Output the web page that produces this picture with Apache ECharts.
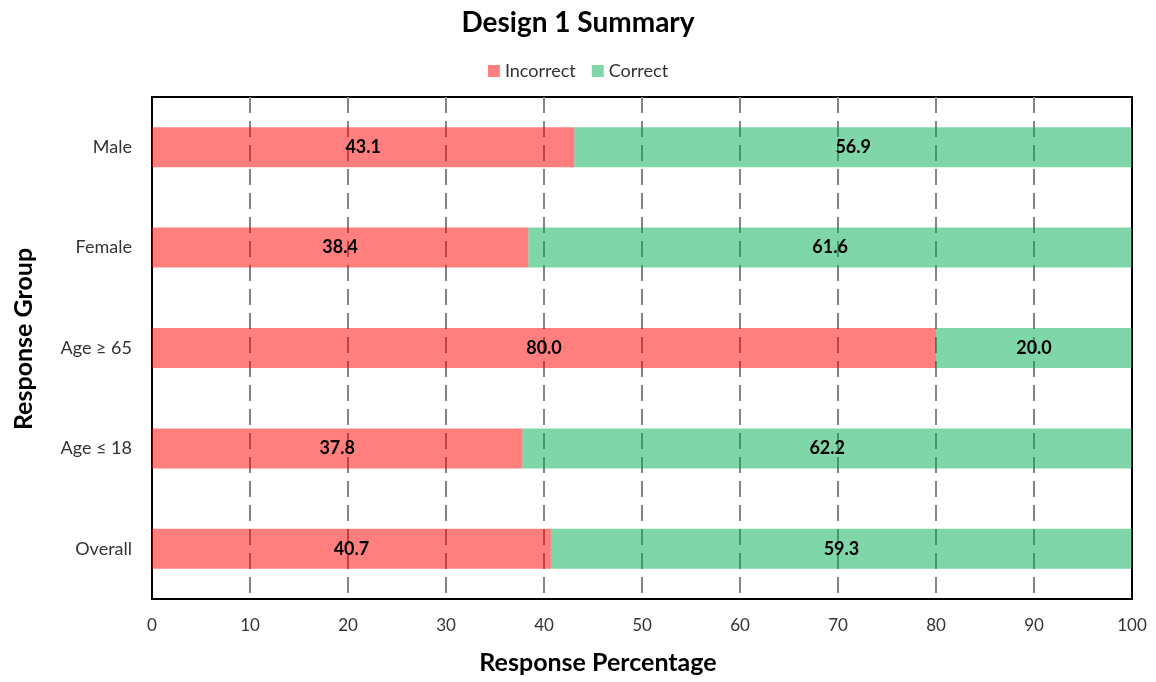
<!DOCTYPE html>
<html><head><meta charset="utf-8">
<script src="https://cdn.jsdelivr.net/npm/echarts@6/dist/echarts.min.js"></script>
<style>html,body{margin:0;padding:0;background:#fff}#c{width:1156px;height:682px}</style>
</head><body><div id="c"></div>
<script>
const categories = ['Overall', 'Age ≤ 18', 'Age ≥ 65', 'Female', 'Male'];
const incorrect = [40.7, 37.8, 80.0, 38.4, 43.1];
const correct = [59.3, 62.2, 20.0, 61.6, 56.9];
const FONT = 'Lato, "Open Sans", sans-serif';
const chart = echarts.init(document.getElementById('c'));
const lbl = {show: true, position: 'inside', color: '#000', fontWeight: 'bold', fontSize: 18, fontFamily: FONT,
  formatter: p => p.value.toFixed(1)};
chart.setOption({
  animation: false,
  title: {text: 'Design 1 Summary', left: 'center', top: 4,
    textStyle: {fontSize: 28, fontWeight: 'bold', color: '#000', fontFamily: FONT}},
  legend: {top: 57, left: 'center', itemWidth: 12, itemHeight: 12, itemGap: 16, icon: 'rect',
    textStyle: {fontSize: 18, color: '#333', fontFamily: FONT}},
  grid: {left: 152, right: 24, top: 97, bottom: 83, show: true, borderColor: '#000', borderWidth: 2, containLabel: false},
  xAxis: {type: 'value', min: 0, max: 100, interval: 10,
    name: 'Response Percentage', nameLocation: 'middle', nameGap: 51,
    nameTextStyle: {fontSize: 25, fontWeight: 'bold', color: '#000', fontFamily: FONT, padding: [0, 88, 0, 0]},
    axisLine: {show: false}, axisTick: {show: false},
    axisLabel: {fontSize: 17, color: '#333', margin: 18, fontFamily: FONT},
    splitLine: {show: true, showMinLine: false, showMaxLine: false,
      lineStyle: {type: [16, 8], color: '#858585', width: 2}}},
  yAxis: {type: 'category', data: categories,
    name: 'Response Group', nameLocation: 'middle', nameGap: 116, nameRotate: 90,
    nameTextStyle: {fontSize: 25, fontWeight: 'bold', color: '#000', fontFamily: FONT, padding: [0, 0, 0, 18]},
    axisLine: {show: false}, axisTick: {show: false},
    axisLabel: {fontSize: 18, color: '#333', margin: 20, fontFamily: FONT}},
  series: [
    {name: 'Incorrect', type: 'bar', stack: 'a', data: incorrect, barWidth: 40,
      itemStyle: {color: 'rgba(255,0,0,0.5)'}, label: lbl},
    {name: 'Correct', type: 'bar', stack: 'a', data: correct, barWidth: 40,
      itemStyle: {color: 'rgba(0,174,82,0.5)'}, label: lbl}
  ]
});
</script></body></html>
